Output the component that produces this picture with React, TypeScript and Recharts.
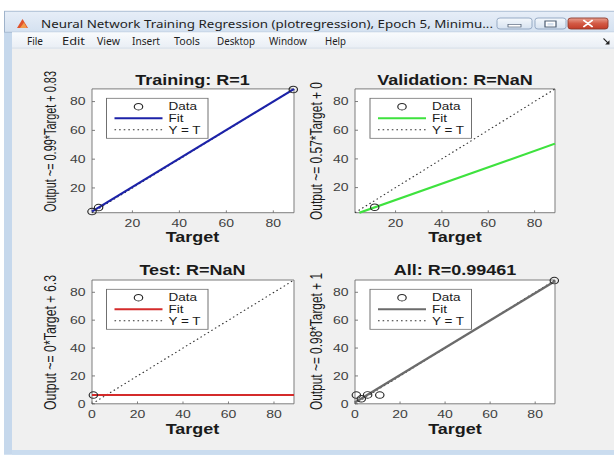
import React from 'react';
import {
  ComposedChart,
  XAxis,
  YAxis,
  Scatter,
  ReferenceLine,
  ReferenceArea,
  CartesianGrid,
} from 'recharts';

// ---- data -------------------------------------------------------------
const panelNames = ['Training', 'Validation', 'Test', 'All'];
const rValues = ['1', 'NaN', 'NaN', '0.99461'];

const trainTargets = [2.8, 5.6, 88.5];
const trainOutputs = [3.6, 6.4, 88.4];
const valTargets = [11.0];
const valOutputs = [6.3];
const testTargets = [0.6];
const testOutputs = [6.3];
const allTargets = [...trainTargets, ...valTargets, ...testTargets];
const allOutputs = [...trainOutputs, ...valOutputs, ...testOutputs];

const fitSlopes = [0.99, 0.57, 0, 0.98];
const fitIntercepts = [0.83, 0, 6.3, 1];

const axisLimits = [
  [2.8, 88.8],
  [2.5, 88.8],
  [0, 88.8],
  [0, 88.8],
];
const ticksUpper = [20, 40, 60, 80];
const ticksLower = [0, 20, 40, 60, 80];
const legendLabels = ['Data', 'Fit', 'Y = T'];
const menuItems = ['File', 'Edit', 'View', 'Insert', 'Tools', 'Desktop', 'Window', 'Help'];
const windowTitle =
  'Neural Network Training Regression (plotregression), Epoch 5, Minimu...';

// ---- styling / layout -------------------------------------------------
const FONT = '"Liberation Sans", Arial, Helvetica, sans-serif';
const UI_FONT = '"Noto Sans", "Open Sans", "DejaVu Sans", sans-serif';
const fitColors = ['#1c22a8', '#3ee23e', '#d42b2b', '#6b6b6b'];
const FRAME = '#6e6e6e';

const PAGE_W = 614;
const PAGE_H = 455;
const SY = 0.78; // the figure is drawn with a vertical squeeze
const u = (p: number) => p / SY;

type Box = { x: number; y: number; w: number; h: number };
const BOXES: Box[] = [
  { x: 91.5, y: 88.7, w: 202, h: 123.8 },
  { x: 355, y: 88.7, w: 200, h: 123.8 },
  { x: 91.5, y: 279.7, w: 202, h: 123.8 },
  { x: 355, y: 279.7, w: 200, h: 123.8 },
];
const panelTicks = [ticksUpper, ticksUpper, ticksLower, ticksLower];
const panelTargets = [trainTargets, valTargets, testTargets, allTargets];
const panelOutputs = [trainOutputs, valOutputs, testOutputs, allOutputs];
const titleBase = [85, 85, 275.5, 275.5];
const xLabelBase = [242, 242.5, 434.3, 434.3];
const yLabelGeom = [
  { cx: 50, cy: 141.5, len: 141 },
  { cx: 316, cy: 151, len: 138 },
  { cx: 50, cy: 342.5, len: 135 },
  { cx: 316, cy: 341.5, len: 137 },
];
const menuX = [27, 62, 97, 132, 174, 217, 269, 325];
const menuW = [16, 23, 23, 28, 26, 38, 38, 21];

const fmt = (v: number) => String(v);

function fitSegment(m: number, b: number, lo: number, hi: number) {
  let x0 = lo;
  let y0 = m * lo + b;
  let x1 = hi;
  let y1 = m * hi + b;
  if (m !== 0) {
    if (y0 < lo) {
      x0 = (lo - b) / m;
      y0 = lo;
    }
    if (y1 > hi) {
      x1 = (hi - b) / m;
      y1 = hi;
    }
  }
  return [
    { x: x0, y: y0 },
    { x: x1, y: y1 },
  ];
}

const marker = (props: any) => (
  <circle
    cx={props.cx}
    cy={props.cy}
    r={4.2}
    fill="none"
    stroke="#2a2a2a"
    strokeWidth={1.2}
  />
);

const ML = 45;
const MT = 10;
const MR = 10;
const XH = 35;
const DOT = '1.6 3';

function Panel({ i }: { i: number }) {
  const box = BOXES[i];
  const [lo, hi] = axisLimits[i];
  const ticks = panelTicks[i];
  const points = panelTargets[i].map((t, k) => ({ t, y: panelOutputs[i][k] }));
  const fit = fitSegment(fitSlopes[i], fitIntercepts[i], lo, hi);
  const bh = u(box.h);
  const tickStyle = { fontSize: 14, fill: '#404040', fontFamily: FONT };
  return (
    <div style={{ position: 'absolute', left: box.x - ML, top: u(box.y) - MT }}>
      <ComposedChart
        width={box.w + ML + MR}
        height={bh + MT + XH}
        margin={{ top: MT, right: MR, bottom: 0, left: 0 }}
      >
        <CartesianGrid horizontal={false} vertical={false} fill="#ffffff" />
        <ReferenceLine
          segment={[
            { x: lo, y: lo },
            { x: hi, y: hi },
          ]}
          stroke="#303030"
          strokeWidth={1.3}
          strokeDasharray={DOT}
          ifOverflow="visible"
        />
        <ReferenceLine
          segment={fit}
          stroke={fitColors[i]}
          strokeWidth={2.6}
          ifOverflow="visible"
        />
        <ReferenceArea
          x1={lo}
          x2={hi}
          y1={lo}
          y2={hi}
          fill="none"
          fillOpacity={0}
          stroke={FRAME}
          strokeWidth={1}
          ifOverflow="visible"
        />
        <XAxis
          dataKey="t"
          type="number"
          domain={[lo, hi]}
          ticks={ticks}
          interval={0}
          height={XH}
          axisLine={false}
          tickLine={{ stroke: FRAME }}
          tickSize={-3}
          tickMargin={11}
          tick={tickStyle}
        />
        <YAxis
          dataKey="y"
          type="number"
          domain={[lo, hi]}
          ticks={ticks}
          interval={0}
          width={ML}
          axisLine={false}
          tickLine={{ stroke: FRAME }}
          tickSize={-3}
          tickMargin={9.5}
          tick={tickStyle}
        />
        <Scatter data={points} isAnimationActive={false} shape={marker} />
      </ComposedChart>
    </div>
  );
}

function Legend({ i }: { i: number }) {
  const box = BOXES[i];
  const lx = box.x + 15;
  const ly = u(box.y + 9.6);
  const rows = [10.8, 25.6, 40.4].map((d) => ly + d);
  const tx = lx + 62;
  const txtProps = { fontFamily: FONT, fontSize: 13.5, fill: '#1a1a1a' };
  return (
    <g>
      <rect x={lx} y={ly} width={101.5} height={u(40)} fill="#ffffff" stroke="#707070" strokeWidth={1} />
      <circle cx={lx + 32} cy={rows[0]} r={4.2} fill="none" stroke="#2a2a2a" strokeWidth={1.2} />
      <line x1={lx + 8} x2={lx + 56} y1={rows[1]} y2={rows[1]} stroke={fitColors[i]} strokeWidth={2.6} />
      <line
        x1={lx + 8}
        x2={lx + 56}
        y1={rows[2]}
        y2={rows[2]}
        stroke="#303030"
        strokeWidth={1.3}
        strokeDasharray={DOT}
      />
      {legendLabels.map((lab, k) => (
        <text key={lab} x={tx} y={rows[k] + 4.8} {...txtProps}>
          {lab}
        </text>
      ))}
    </g>
  );
}

function Chrome() {
  const btn = (x0: number, x1: number) => (
    <rect
      x={x0}
      y={u(18)}
      width={x1 - x0}
      height={u(11)}
      rx={3}
      fill="url(#btnGrad)"
      stroke="#8da3bf"
      strokeWidth={1}
    />
  );
  return (
    <svg width={PAGE_W} height={u(PAGE_H)} style={{ position: 'absolute', left: 0, top: 0 }}>
      <defs>
        <linearGradient id="titleGrad" x1="0" y1="0" x2="0" y2="1">
          <stop offset="0" stopColor="#e7eef8" />
          <stop offset="1" stopColor="#d4e1f0" />
        </linearGradient>
        <linearGradient id="menuGrad" x1="0" y1="0" x2="0" y2="1">
          <stop offset="0" stopColor="#f9fbfd" />
          <stop offset="1" stopColor="#e9eef5" />
        </linearGradient>
        <linearGradient id="btnGrad" x1="0" y1="0" x2="0" y2="1">
          <stop offset="0" stopColor="#f4f8fc" />
          <stop offset="1" stopColor="#d6e2f0" />
        </linearGradient>
        <linearGradient id="closeGrad" x1="0" y1="0" x2="0" y2="1">
          <stop offset="0" stopColor="#e8a090" />
          <stop offset="0.5" stopColor="#d35a45" />
          <stop offset="1" stopColor="#c23c28" />
        </linearGradient>
      </defs>
      <rect x={0} y={0} width={PAGE_W} height={u(PAGE_H)} fill="#ffffff" />
      {/* window frame */}
      <rect x={4} y={u(11)} width={PAGE_W} height={u(PAGE_H - 11)} fill="#c6d8ec" />
      <rect x={4.5} y={u(11.2)} width={PAGE_W} height={u(21)} fill="url(#titleGrad)" stroke="#9fb3cb" strokeWidth={1} />
      {/* title bar */}
      <polygon points={`17,${u(28)} 22.5,${u(19)} 28,${u(28)}`} fill="#e0532b" />
      <polygon points={`20,${u(28)} 24,${u(22.5)} 27,${u(28)}`} fill="#f29a4a" />
      <text
        x={41}
        y={u(28)}
        fontFamily={UI_FONT}
        fontSize={13.5}
        fill="#1e1e1e"
        textLength={452}
        lengthAdjust="spacingAndGlyphs"
      >
        {windowTitle}
      </text>
      {btn(497, 532)}
      {btn(535, 566)}
      <rect x={568} y={u(18)} width={40} height={u(11)} rx={3} fill="url(#closeGrad)" stroke="#8d3a2c" strokeWidth={1} />
      <rect x={508} y={u(24.5)} width={13} height={u(2.5)} fill="#ffffff" stroke="#4a5a70" strokeWidth={0.8} />
      <rect x={545} y={u(21)} width={11} height={u(6)} fill="#ffffff" stroke="#4a5a70" strokeWidth={1.2} />
      <rect x={547.5} y={u(23)} width={6} height={u(2.5)} fill="#d6e2f0" />
      <path
        d={`M584,${u(20.5)} L592,${u(26.5)} M592,${u(20.5)} L584,${u(26.5)}`}
        stroke="#ffffff"
        strokeWidth={2.2}
        strokeLinecap="round"
      />
      {/* menu bar */}
      <rect x={12} y={u(32.2)} width={PAGE_W} height={u(16)} fill="url(#menuGrad)" />
      <line x1={12} x2={PAGE_W} y1={u(48)} y2={u(48)} stroke="#d9dfe8" strokeWidth={1} />
      {menuItems.map((m, k) => (
        <text
          key={m}
          x={menuX[k]}
          y={u(45)}
          fontFamily={UI_FONT}
          fontSize={13}
          fill="#1e1e1e"
          textLength={menuW[k]}
          lengthAdjust="spacingAndGlyphs"
        >
          {m}
        </text>
      ))}
      <path d={`M603.5,${u(38.5)} L608,${u(43)}`} stroke="#222" strokeWidth={1.4} />
      <polygon points={`609.5,${u(44.5)} 609.5,${u(40.2)} 605.2,${u(44.5)}`} fill="#222" />
      {/* figure area */}
      <rect x={12} y={u(48.5)} width={PAGE_W} height={u(450 - 48.5)} fill="#f0f0f0" />
      <rect x={12} y={u(450)} width={PAGE_W} height={u(5)} fill="#cadcef" />
    </svg>
  );
}

function Labels() {
  return (
    <svg
      width={PAGE_W}
      height={u(PAGE_H)}
      style={{ position: 'absolute', left: 0, top: 0, pointerEvents: 'none' }}
    >
      {BOXES.map((box, i) => {
        const cx = box.x + box.w / 2;
        const g = yLabelGeom[i];
        const yLabel = `Output ~= ${fmt(fitSlopes[i])}*Target + ${fmt(fitIntercepts[i])}`;
        return (
          <g key={panelNames[i]}>
            <text
              x={cx}
              y={u(titleBase[i])}
              textAnchor="middle"
              fontFamily={FONT}
              fontWeight="bold"
              fontSize={18}
              fill="#1a1a1a"
            >
              {`${panelNames[i]}: R=${rValues[i]}`}
            </text>
            <text
              x={cx}
              y={u(xLabelBase[i])}
              textAnchor="middle"
              fontFamily={FONT}
              fontWeight="bold"
              fontSize={18}
              fill="#1a1a1a"
            >
              Target
            </text>
            <text
              transform={`translate(${g.cx} ${u(g.cy)}) rotate(-90)`}
              textAnchor="middle"
              dominantBaseline="central"
              fontFamily={FONT}
              fontSize={16}
              fill="#1a1a1a"
              textLength={u(g.len)}
              lengthAdjust="spacingAndGlyphs"
            >
              {yLabel}
            </text>
            <Legend i={i} />
          </g>
        );
      })}
    </svg>
  );
}

export default function App() {
  return (
    <div
      style={{
        position: 'absolute',
        left: 0,
        top: 0,
        width: PAGE_W,
        height: PAGE_H,
        overflow: 'hidden',
        background: '#ffffff',
      }}
    >
      <div
        style={{
          position: 'absolute',
          left: 0,
          top: 0,
          width: PAGE_W,
          height: u(PAGE_H),
          transform: `scale(1, ${SY})`,
          transformOrigin: '0 0',
        }}
      >
        <Chrome />
        {BOXES.map((_, i) => (
          <Panel key={panelNames[i]} i={i} />
        ))}
        <Labels />
      </div>
    </div>
  );
}
